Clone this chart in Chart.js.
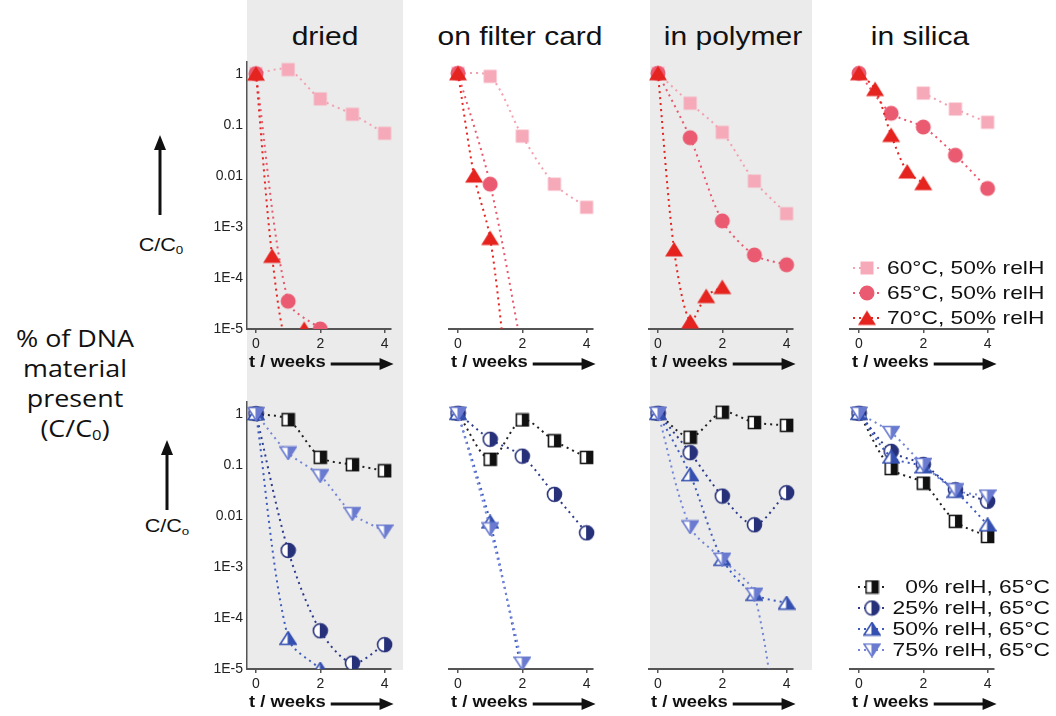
<!DOCTYPE html>
<html>
<head>
<meta charset="utf-8">
<script src="https://cdn.jsdelivr.net/npm/chart.js@4.4.1/dist/chart.umd.min.js"></script>
<style>
  body{margin:0;width:1056px;height:716px;background:#fff;position:relative;overflow:hidden;
       font-family:"Liberation Sans",Arial,sans-serif;color:#111;}
  .band{position:absolute;top:0;height:670px;background:#ebebeb;}
  .title{position:absolute;top:22px;font-size:25px;white-space:nowrap;transform:translateX(-50%) scaleX(1.2);}
  .side{position:absolute;left:75px;top:323px;font-family:"Open Sans",sans-serif;font-size:24px;line-height:30px;
        text-align:center;white-space:nowrap;transform:translateX(-50%) scaleX(1.12);}
  .cc{position:absolute;font-size:18px;white-space:nowrap;transform:translate(-50%,-50%) scaleX(1.2);}
  sub{font-size:62%;vertical-align:-3px;line-height:0;}
  svg{position:absolute;left:0;top:0;}
  canvas{position:absolute;}
</style>
</head>
<body>
<div class="band" style="left:247px;width:156px;"></div>
<div class="band" style="left:650px;width:162px;"></div>

<div class="title" style="left:325px;">dried</div>
<div class="title" style="left:520px;">on filter card</div>
<div class="title" style="left:733px;">in polymer</div>
<div class="title" style="left:920px;">in silica</div>

<div class="side">% of DNA<br>material<br>present<br>(C/C<sub>0</sub>)</div>
<div class="cc" style="left:161px;top:245px;">C/C<sub>0</sub></div>
<div class="cc" style="left:167px;top:526px;">C/C<sub>o</sub></div>

<svg width="1056" height="716">
  <line x1="160" y1="215" x2="160" y2="146" stroke="#111" stroke-width="3"/>
  <polygon points="160,135 154,150 166,150" fill="#111"/>
  <line x1="167" y1="510" x2="167" y2="451" stroke="#111" stroke-width="3"/>
  <polygon points="167,440 161,455 173,455" fill="#111"/>
</svg>

<script>
// ─── DATA ────────────────────────────────────────────────────────────────────
const panels     = ["dried", "on filter card", "in polymer", "in silica"];
const xTicks     = [0, 2, 4];
const yTicks     = [1, 0.1, 0.01, 1e-3, 1e-4, 1e-5];
const yLabels    = ["1", "0.1", "0.01", "1E-3", "1E-4", "1E-5"];
const tempLabels = ["60°C, 50% relH", "65°C, 50% relH", "70°C, 50% relH"];
const humLabels  = ["0% relH, 65°C", "25% relH, 65°C", "50% relH, 65°C", "75% relH, 65°C"];

// [week, C/C0] per panel: dried, on filter card, in polymer, in silica
const temp60 = [
  [[0,1],[1,1.2],[2,0.32],[3,0.16],[4,0.068]],
  [[0,1],[1,0.87],[2,0.059],[3,0.0068],[4,0.0024]],
  [[0,1],[1,0.26],[2,0.07],[3,0.0078],[4,0.0018]],
  [[2,0.41],[3,0.2],[4,0.11]]
];
const temp65 = [
  [[0,1],[1,3.5e-5],[2,1e-5]],
  [[0,1],[1,0.0068],[2,3.5e-6]],
  [[0,1],[1,0.055],[2,0.0013],[3,2.8e-4],[4,1.8e-4]],
  [[0,1],[1,0.165],[2,0.089],[3,0.025],[4,0.0056]]
];
const temp70 = [
  [[0,1],[0.5,2.7e-4],[1,4e-6],[1.5,1e-5]],
  [[0,1],[0.5,0.01],[1,6e-4],[1.5,1.6e-6]],
  [[0,1],[0.5,3.6e-4],[1,1.4e-5],[1.5,4.4e-5],[2,6.6e-5]],
  [[0,1],[0.5,0.49],[1,0.062],[1.5,0.012],[2,0.0071]]
];

const hum0 = [
  [[0,1],[1,0.76],[2,0.14],[3,0.1],[4,0.076]],
  [[0,1],[1,0.126],[2,0.74],[3,0.29],[4,0.137]],
  [[0,1],[1,0.34],[2,1.05],[3,0.66],[4,0.58]],
  [[0,1],[1,0.083],[2,0.043],[3,0.0077],[4,0.0039]]
];
const hum25 = [
  [[0,1],[1,0.0021],[2,5.6e-5],[3,1.3e-5],[4,3e-5]],
  [[0,1],[1,0.31],[2,0.145],[3,0.026],[4,0.0046]],
  [[0,1],[1,0.17],[2,0.024],[3,0.0066],[4,0.028]],
  [[0,1],[1,0.18],[2,0.1],[3,0.032],[4,0.019]]
];
const hum50 = [
  [[0,1],[1,4e-5],[2,1e-5]],
  [[0,1],[1,0.0075],[2,8e-6]],
  [[0,1],[1,0.063],[2,0.0014],[3,2.9e-4],[4,1.95e-4]],
  [[0,1],[1,0.14],[2,0.09],[3,0.03],[4,0.0066]]
];
const hum75 = [
  [[0,1],[1,0.17],[2,0.061],[3,0.011],[4,0.005]],
  [[0,1],[1,0.0055],[2,1.3e-5]],
  [[0,1],[1,0.006],[2,0.0014],[3,2.9e-4],[4,2e-8]],
  [[0,1],[1,0.42],[2,0.1],[3,0.032],[4,0.024]]
];

// ─── MARKERS ─────────────────────────────────────────────────────────────────
function marker(shape, color, size, half){
  const c = document.createElement("canvas");
  const tri = shape === "up" || shape === "down";
  const w = size + 2, h = tri ? Math.round(size * 0.82) + 2 : size + 2;
  c.width = w; c.height = h;
  const g = c.getContext("2d");
  const path = () => {
    g.beginPath();
    if(shape === "rect") g.rect(1.5, 1.5, w - 3, h - 3);
    else if(shape === "circle") g.arc(w/2, h/2, size/2 - 0.5, 0, Math.PI*2);
    else if(shape === "up"){ g.moveTo(w/2, 1); g.lineTo(w-1, h-1.5); g.lineTo(1, h-1.5); g.closePath(); }
    else { g.moveTo(1, 1.5); g.lineTo(w-1, 1.5); g.lineTo(w/2, h-1); g.closePath(); }
  };
  path(); g.fillStyle = color; g.fill();
  if(half){
    g.save(); path(); g.clip(); g.fillStyle = "#fff"; g.fillRect(0, 0, w*0.47, h); g.restore();
    path(); g.strokeStyle = color; g.lineWidth = 1.6; g.stroke();
  }
  return c;
}

const topStyles = [
  { img: marker("rect",   "#f6aab9", 14), line: "#f3a0b1" },
  { img: marker("circle", "#ea5a70", 16), line: "#e9586e" },
  { img: marker("up",     "#e52420", 18), line: "#e52420" }
];
const bottomStyles = [
  { img: marker("rect",   "#111111", 13, true), line: "#222222" },
  { img: marker("circle", "#27317a", 15, true), line: "#2c3a8c" },
  { img: marker("up",     "#3550b0", 16, true), line: "#3d5bbf" },
  { img: marker("down",   "#6a7bd0", 16, true), line: "#7386d8" }
];

// ─── PLUGINS ─────────────────────────────────────────────────────────────────
const weekAxis = {
  id: "weekAxis",
  afterDraw(chart){
    const { ctx } = chart, x = chart.scales.x;
    const px0 = x.getPixelForValue(0), px4 = x.getPixelForValue(4);
    const y = x.bottom + 12, tx = px0 - 7;
    ctx.save();
    ctx.font = "bold 16px 'Liberation Sans', Arial";
    ctx.textBaseline = "middle";
    ctx.fillStyle = "#111";
    const tw = ctx.measureText("t / weeks").width * 1.15;
    ctx.save(); ctx.translate(tx, y); ctx.scale(1.15, 1); ctx.fillText("t / weeks", 0, 0); ctx.restore();
    const a0 = tx + tw + 5, a1 = px4 + 9;
    ctx.strokeStyle = "#111"; ctx.lineWidth = 3;
    ctx.beginPath(); ctx.moveTo(a0, y + 1); ctx.lineTo(a1 - 10, y + 1); ctx.stroke();
    ctx.beginPath(); ctx.moveTo(a1, y + 1); ctx.lineTo(a1 - 14, y - 5); ctx.lineTo(a1 - 14, y + 7); ctx.closePath(); ctx.fill();
    ctx.restore();
  }
};

const sideLegend = {
  id: "sideLegend",
  afterDraw(chart, args, o){
    if(!o || !o.rows) return;
    const ctx = chart.ctx;
    chart.data.datasets.forEach((ds, i) => {
      const y = o.rows[i] - o.top, mx = o.markX - o.left;
      ctx.save();
      ctx.strokeStyle = ds.borderColor; ctx.lineWidth = 2; ctx.setLineDash([2, 4]);
      ctx.beginPath(); ctx.moveTo(mx - 14, y); ctx.lineTo(mx + 14, y); ctx.stroke();
      ctx.setLineDash([]);
      const img = ds.pointStyle;
      ctx.drawImage(img, mx - img.width/2, y - img.height/2);
      ctx.font = "19px 'Liberation Sans', Arial";
      ctx.fillStyle = "#111"; ctx.textBaseline = "middle";
      ctx.textAlign = o.align;
      ctx.translate(o.textX - o.left, y + 1); ctx.scale(1.2, 1);
      ctx.fillText(ds.label, 0, 0);
      ctx.restore();
    });
  }
};

// ─── PANELS ──────────────────────────────────────────────────────────────────
const x0s = [256, 458, 658, 859];
const PX = 32.25, XMIN = -0.28, XMAX = 4.2, YMAX = Math.pow(10, 0.24);
const AREA_H = 268, PAD_T = 12, XAXIS_H = 22, PAD_B = 22;

const rows = [
  { top: 49,  series: [temp60, temp65, temp70], labels: tempLabels, styles: topStyles,
    legend: { rows: [268, 293, 318], markX: 867, textX: 887, align: "left" } },
  { top: 389, series: [hum0, hum25, hum50, hum75], labels: humLabels, styles: bottomStyles,
    legend: { rows: [587, 608, 629, 650], markX: 872, textX: 1050, align: "right" } }
];

function buildPanel(row, col){
  const L = x0s[col] + XMIN * PX, W = (XMAX - XMIN) * PX;
  const yAxisW = col === 0 ? 50 : 0;
  const padL = col === 0 ? 0 : 12;
  const left = Math.round(L - yAxisW - padL);
  const padR = col === 3 ? Math.round(1056 - (L + W)) : 12;
  const width = Math.round(yAxisW + padL + W + padR);
  const height = PAD_T + AREA_H + XAXIS_H + PAD_B;

  const cv = document.createElement("canvas");
  cv.width = width; cv.height = height;
  cv.style.left = left + "px"; cv.style.top = row.top + "px";
  document.body.appendChild(cv);

  const datasets = row.series.map((s, i) => ({
    label: row.labels[i],
    data: s[col].map(([x, y]) => ({ x, y })),
    borderColor: row.styles[i].line,
    borderWidth: 2,
    borderDash: [2, 4],
    pointStyle: row.styles[i].img,
    pointRadius: 8,
    tension: 0.3,
    fill: false,
    order: row.series.length - i,
    clip: { left: 14, top: 14, right: 14, bottom: 0 }
  }));

  new Chart(cv.getContext("2d"), {
    type: "line",
    data: { datasets },
    plugins: [weekAxis, sideLegend],
    options: {
      responsive: false, animation: false, events: [],
      layout: { padding: { left: padL, right: padR, top: PAD_T, bottom: PAD_B } },
      plugins: {
        legend: { display: false }, tooltip: { enabled: false },
        sideLegend: col === 3 ? Object.assign({ left, top: row.top }, row.legend) : {}
      },
      scales: {
        x: {
          type: "linear", min: XMIN, max: XMAX,
          afterBuildTicks: s => { s.ticks = xTicks.map(v => ({ value: v })); },
          afterFit: s => { s.height = XAXIS_H; },
          grid: { display: true, drawOnChartArea: false, drawTicks: true, tickLength: 4, color: "#555", lineWidth: 1.5 },
          border: { display: true, color: "#555", width: 2 },
          ticks: { padding: 3, color: "#222", font: { family: "'Liberation Sans', Arial", size: 14 }, maxRotation: 0 }
        },
        y: {
          type: "logarithmic", min: 1e-5, max: YMAX, display: col === 0,
          afterBuildTicks: s => { s.ticks = yTicks.map(v => ({ value: v })); },
          afterFit: s => { s.width = yAxisW; },
          grid: { display: false, drawTicks: false },
          border: { display: true, color: "#555", width: 1.5 },
          ticks: {
            padding: 4, color: "#222", font: { family: "'Liberation Sans', Arial", size: 14 },
            callback: v => yLabels[yTicks.indexOf(v)]
          }
        }
      }
    }
  });
}

rows.forEach(row => panels.forEach((p, col) => buildPanel(row, col)));
</script>
</body>
</html>
